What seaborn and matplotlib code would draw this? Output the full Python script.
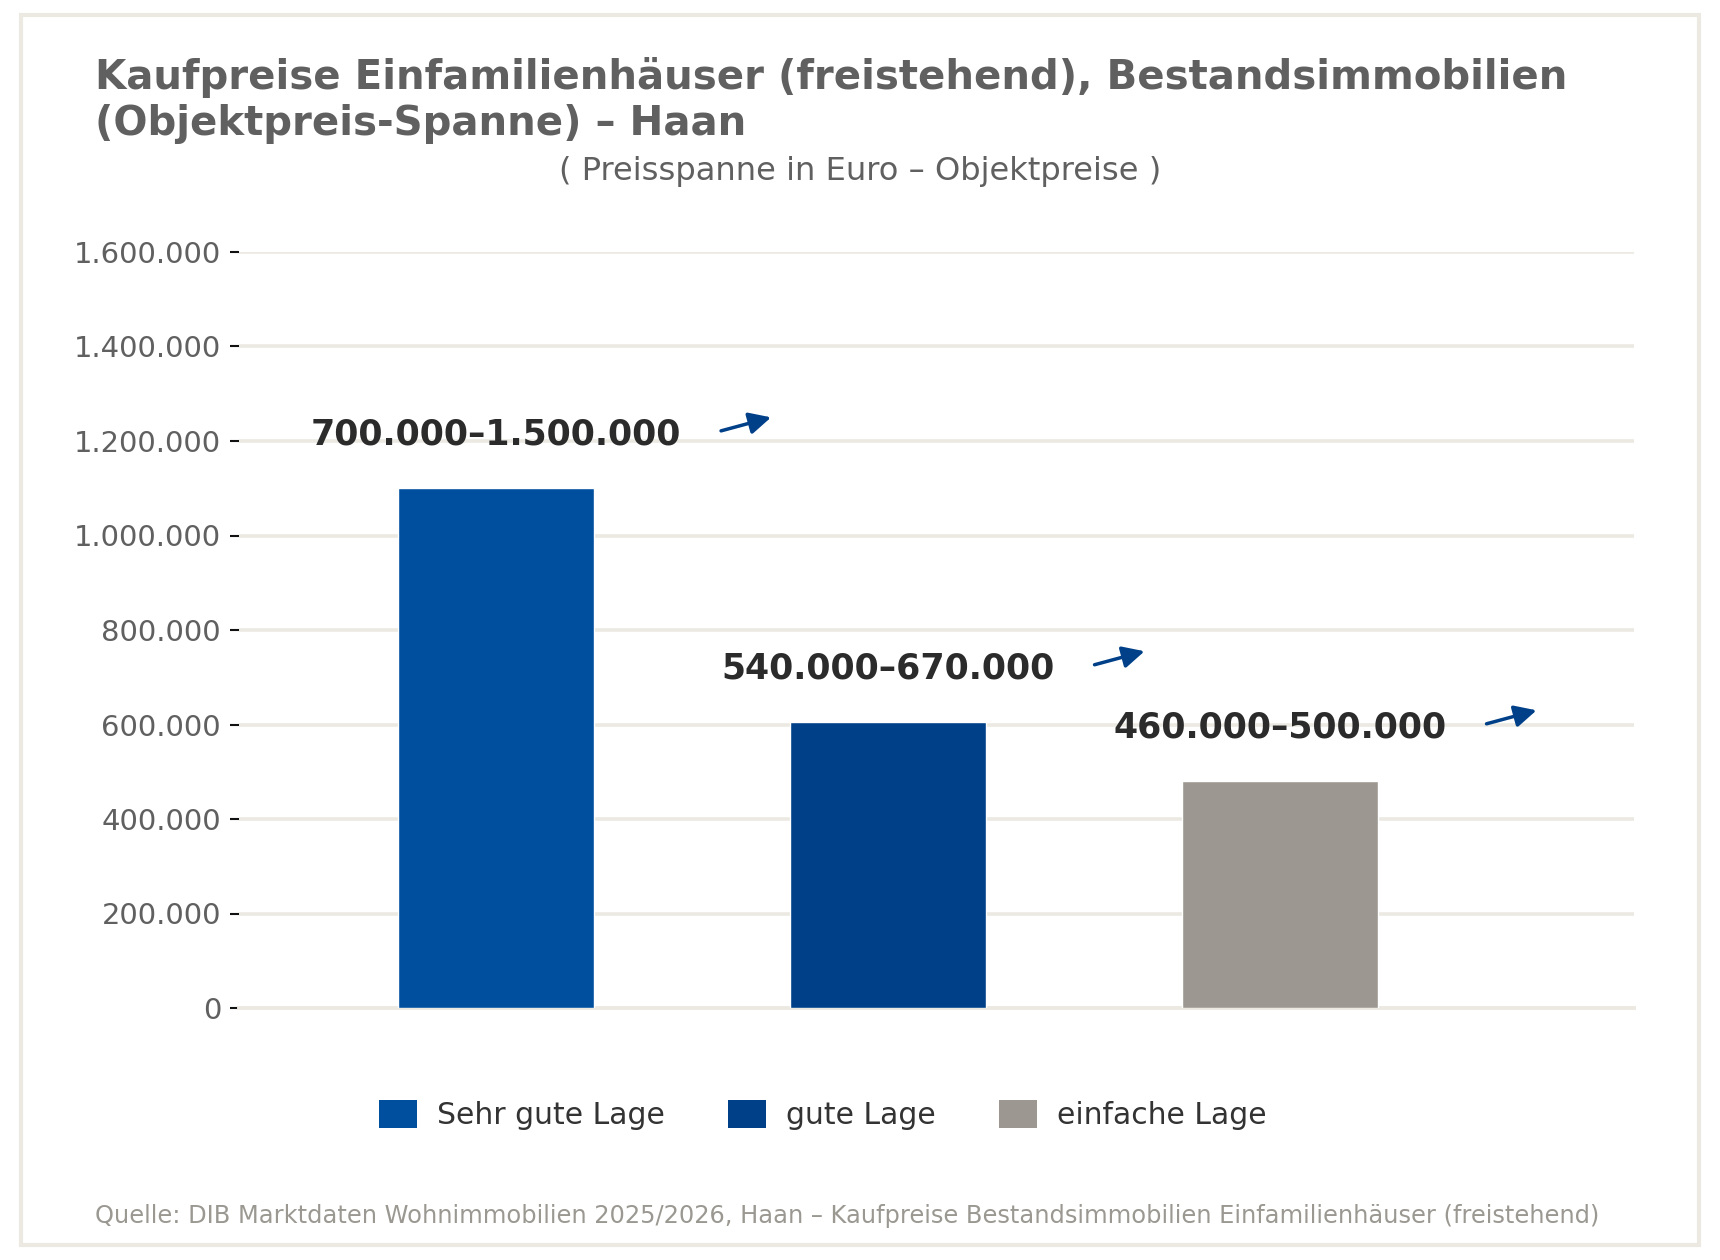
import matplotlib
matplotlib.use("Agg")
import matplotlib.pyplot as plt
import matplotlib.patches as mpatches
from matplotlib.ticker import FuncFormatter
import seaborn as sns
import pandas as pd

# ---- data ----
categories = ["Sehr gute Lage", "gute Lage", "einfache Lage"]
bar_values = [1100000, 605000, 480000]
range_low = [700000, 540000, 460000]
range_high = [1500000, 670000, 500000]
bar_colors = ["#004f9f", "#004088", "#9c9891"]
y_ticks = [0, 200000, 400000, 600000, 800000, 1000000, 1200000, 1400000, 1600000]

title = "Kaufpreise Einfamilienhäuser (freistehend), Bestandsimmobilien\n(Objektpreis-Spanne) – Haan"
subtitle = "( Preisspanne in Euro – Objektpreise )"
source = ("Quelle: DIB Marktdaten Wohnimmobilien 2025/2026, Haan – Kaufpreise "
          "Bestandsimmobilien Einfamilienhäuser (freistehend)")

def de_fmt(v):
    return f"{v:,.0f}".replace(",", ".")

sns.set_style("white")
plt.rcParams["font.family"] = ["DejaVu Sans"]

grid_color = "#ebe9e2"
text_gray = "#606060"

fig = plt.figure(figsize=(17.2, 12.6), dpi=100)
ax = fig.add_axes([0.139, 0.2, 0.811, 0.6])

df = pd.DataFrame({"Lage": categories, "Preis": bar_values})
sns.barplot(data=df, x="Lage", y="Preis", hue="Lage", palette=bar_colors,
            width=0.5, saturation=1, legend=False, ax=ax, zorder=3)

ax.set_xlim(-0.655, 2.903)
ax.set_ylim(0, 1600000)
ax.set_yticks(y_ticks)
ax.yaxis.set_major_formatter(FuncFormatter(lambda v, p: de_fmt(v)))
ax.set_xticks([])
ax.set_xlabel("")
ax.set_ylabel("")
ax.tick_params(axis="y", labelsize=20.9, labelcolor=text_gray, color="#111111",
               length=6.5, width=1.5, pad=6.5, left=True)
ax.set_axisbelow(True)
ax.yaxis.grid(True, color=grid_color, linewidth=2.6)
for s in ["top", "right", "left"]:
    ax.spines[s].set_visible(False)
ax.spines["bottom"].set_color(grid_color)
ax.spines["bottom"].set_linewidth(2.8)
ax.spines["bottom"].set_zorder(1)

# range labels
texts = []
for i, (v, lo, hi) in enumerate(zip(bar_values, range_low, range_high)):
    t = ax.text(i, v + 113000, f"{de_fmt(lo)}–{de_fmt(hi)}", ha="center", va="center",
                fontsize=25, fontweight="bold", color="#2b2b2b", zorder=5)
    texts.append(t)

fig.canvas.draw()
inv = ax.transData.inverted()
for t in texts:
    bb = t.get_window_extent()
    cy = (bb.y0 + bb.y1) / 2
    tail = inv.transform((bb.x1 + 40, cy + 4))
    head = inv.transform((bb.x1 + 90, cy + 17.5))
    ax.annotate("", xy=head, xytext=tail,
                arrowprops=dict(arrowstyle="-|>,head_length=0.6,head_width=0.3",
                                mutation_scale=22, color="#004088", lw=2.5,
                                shrinkA=0, shrinkB=0, capstyle="round"),
                zorder=5)

# titles
fig.text(0.0555, 0.955, title, ha="left", va="top", fontsize=29, fontweight="bold",
         color=text_gray, linespacing=1.2)
fig.text(0.5, 1 - 180 / 1260, subtitle, ha="center", va="baseline", fontsize=23.1,
         color=text_gray)

# legend
handles = [mpatches.Patch(facecolor=c, edgecolor="none", label=l)
           for c, l in zip(bar_colors, categories)]
fig.legend(handles=handles, loc="center", bbox_to_anchor=(0.4782, 0.1151), ncol=3,
           frameon=False, fontsize=21.5, labelcolor="#333333", handlelength=1.27,
           handleheight=1.048, handletextpad=0.67, columnspacing=2.12, borderpad=0.3)

# source
fig.text(0.0555, 1 - 1215.5 / 1260, source, ha="left", va="center", fontsize=17.4,
         color="#9a9891")

# outer border
fig.patches.append(mpatches.Rectangle((0.01221, 0.0119), 0.97558, 0.97619,
                                      transform=fig.transFigure, fill=False,
                                      edgecolor=grid_color, linewidth=3.0))

fig.savefig("out.png", dpi=100, facecolor="white")
